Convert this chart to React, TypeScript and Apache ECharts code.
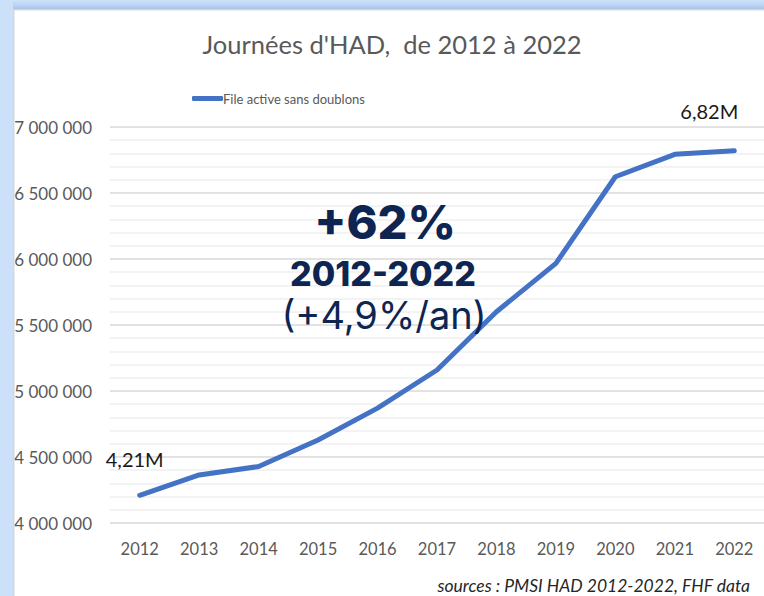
import React, { useEffect, useRef } from "react";
import * as echarts from "echarts";

const years = ["2012", "2013", "2014", "2015", "2016", "2017", "2018", "2019", "2020", "2021", "2022"];
const fileActive = [4210000, 4364000, 4428000, 4629000, 4870000, 5159000, 5600000, 5967000, 6623000, 6793000, 6820000];
const labelledYears = ["2012", "2022"];
const titleText = "Journées d'HAD,  de 2012 à 2022";
const seriesName = "File active sans doublons";
const bigText = "+62%";
const periodText = "2012-2022";
const rateText = "(+4,9%/an)";
const sourceText = "sources : PMSI HAD 2012-2022, FHF data";

const fmtAxis = (v: number) => String(Math.round(v)).replace(/\B(?=(\d{3})+(?!\d))/g, " ");
const fmtM = (v: number) => (v / 1e6).toFixed(2).replace(".", ",") + "M";

export default function App() {
  const ref = useRef<HTMLDivElement>(null);
  useEffect(() => {
    if (!ref.current) return;
    const chart = echarts.init(ref.current, undefined, { renderer: "svg" });
    const labelCfg: Record<string, any> = {
      "2012": { distance: 26, offset: [-5, 0] },
      "2022": { distance: 30, offset: [-25, 0] },
    };
    const data = fileActive.map((v, i) => {
      const y = years[i];
      if (labelledYears.includes(y)) {
        return {
          value: v,
          label: {
            show: true,
            position: "top",
            distance: labelCfg[y].distance,
            offset: labelCfg[y].offset,
            formatter: (p: any) => fmtM(p.value),
            fontFamily: "Lato",
            fontSize: 20,
            color: "#1a1a1a",
          },
        };
      }
      return { value: v };
    });
    chart.setOption({
      animation: false,
      backgroundColor: "#ffffff",
      grid: { left: 110, top: 127, width: 658, height: 396 },
      legend: {
        left: 187,
        top: 87,
        icon: "roundRect",
        itemWidth: 31,
        itemHeight: 5,
        itemGap: 2,
        textStyle: { fontFamily: "Lato", fontSize: 13, color: "#595959", padding: [0, 0, 0, -5] },
        data: [seriesName],
      },
      xAxis: {
        type: "category",
        data: years,
        boundaryGap: true,
        axisLine: { show: false },
        axisTick: { show: false },
        axisLabel: { margin: 17, fontFamily: "Lato", fontSize: 16.5, color: "#595959" },
      },
      yAxis: {
        type: "value",
        min: 4000000,
        max: 7000000,
        interval: 500000,
        axisLine: { show: false },
        axisTick: { show: false },
        axisLabel: { margin: 18, fontFamily: "Lato", fontSize: 17, color: "#595959", formatter: fmtAxis },
        splitLine: { show: true, lineStyle: { color: "#d9d9d9", width: 1.5 } },
        minorTick: { show: false, splitNumber: 5 },
        minorSplitLine: { show: true, lineStyle: { color: "#efefef", width: 1.5 } },
      },
      series: [
        {
          name: seriesName,
          type: "line",
          data,
          showSymbol: true,
          symbol: "circle",
          symbolSize: 0.1,
          lineStyle: { color: "#4472c4", width: 5, cap: "round", join: "round" },
          itemStyle: { color: "#4472c4" },
        },
      ],
      graphic: [
        { type: "rect", shape: { x: 0, y: 0, width: 764, height: 9 }, style: { fill: new echarts.graphic.LinearGradient(0, 0, 0, 1, [{ offset: 0, color: "#cfe2fa" }, { offset: 0.6, color: "#bcd3f2" }, { offset: 1, color: "#a9c3e8" }]) }, z: 100 },
        { type: "rect", shape: { x: 0, y: 0, width: 13, height: 596 }, style: { fill: "#cce0fa" }, z: 101 },
        { type: "rect", shape: { x: 13, y: 9, width: 751, height: 1.5 }, style: { fill: "#d6d6d6" }, z: 100 },
        { type: "rect", shape: { x: 13, y: 9, width: 1.5, height: 587 }, style: { fill: "#d6d6d6" }, z: 100 },
        { type: "text", x: 392, y: 44, style: { text: titleText, fontFamily: "Lato", fontSize: 25.5, fill: "#595959", align: "center", verticalAlign: "middle" }, z: 100 },
        { type: "text", x: 385, y: 221, style: { text: bigText, fontFamily: "Inter", fontWeight: 800, fontSize: 47, fill: "#0e2552", align: "center", verticalAlign: "middle" }, z: 100 },
        { type: "text", x: 383, y: 273, style: { text: periodText, fontFamily: "Inter", fontWeight: 800, fontSize: 34, fill: "#0e2552", align: "center", verticalAlign: "middle" }, z: 100 },
        { type: "text", x: 384, y: 315, style: { text: rateText, fontFamily: "Inter", fontWeight: 400, fontSize: 38, fill: "#0e2552", align: "center", verticalAlign: "middle" }, z: 100 },
        { type: "text", x: 750, y: 585, style: { text: sourceText, fontFamily: "Lato", fontStyle: "italic", fontSize: 17.5, fill: "#262626", align: "right", verticalAlign: "middle" }, z: 100 },
      ],
    });
    return () => chart.dispose();
  }, []);
  return <div ref={ref} style={{ position: "fixed", left: 0, top: 0, width: 764, height: 596 }} />;
}
